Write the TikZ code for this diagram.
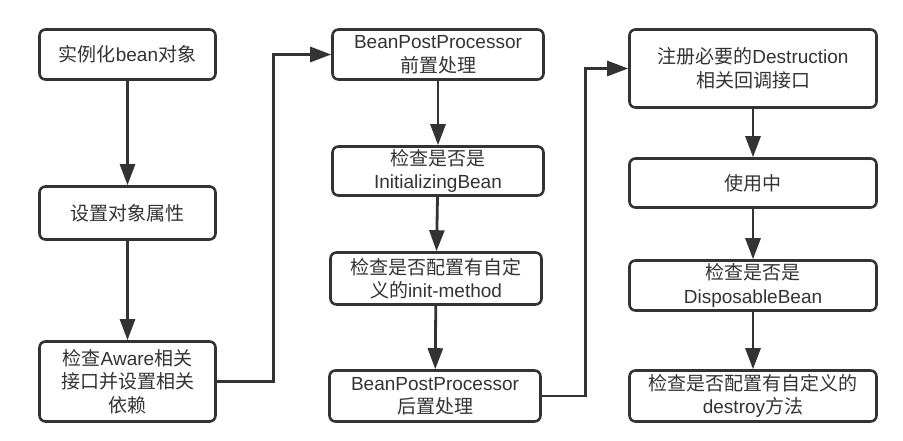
\documentclass[tikz,border=0pt]{standalone}
\usepackage{fontspec}
\setmainfont{Noto Sans CJK SC}
\newfontfamily\latinfont{Liberation Sans}
\newcommand{\en}[1]{{\latinfont #1}}
\usepackage{tikz}
\usetikzlibrary{arrows.meta,positioning}

\definecolor{inkgray}{HTML}{333333}

\begin{document}
\begin{tikzpicture}[x=1pt, y=-1pt,
    box/.style={draw=inkgray, line width=2.6pt, rounded corners=6pt, fill=white,
        text=inkgray, align=center, font=\fontsize{19}{23.5}\selectfont, inner sep=2pt},
    arr/.style={draw=inkgray, line width=2.8pt, -{Triangle[length=21pt, width=15pt]}}]
    \useasboundingbox (0,0) rectangle (903,440);

    % Instantiate
    \node[box, minimum width=176pt, minimum height=50pt] (inst) at (127.5,54.5) {实例化\en{bean}对象};
    \node[box, minimum width=176pt, minimum height=53pt] (props) at (127.5,213) {设置对象属性};
    \node[box, minimum width=176pt, minimum height=80pt] (aware) at (127.5,381.5) {检查\en{Aware}相关\\接口并设置相关\\依赖};
    \draw[arr] (inst) -- (props);
    \draw[arr] (props) -- (aware);

    % Init
    \node[box, minimum width=211pt, minimum height=50pt] (bppBefore) at (438,54.5) {\en{BeanPostProcessor}\\前置处理};
    \node[box, minimum width=211pt, minimum height=49pt] (initBean) at (438,171) {检查是否是\\\en{InitializingBean}};
    \node[box, minimum width=211pt, minimum height=52pt] (initMethod) at (436,278.5) {检查是否配置有自定\\义的\en{init-method}};
    \node[box, minimum width=211pt, minimum height=51pt] (bppAfter) at (435,396) {\en{BeanPostProcessor}\\后置处理};
    \draw[arr] (aware.east) -- ++(57,0) |- (bppBefore.west);
    \draw[arr] (bppBefore) -- (initBean);
    \draw[arr] (initBean) -- (initMethod);
    \draw[arr] (initMethod) -- (bppAfter);

    % Destroy
    \node[box, minimum width=247pt, minimum height=78pt] (regDestr) at (753,68.5) {注册必要的\en{Destruction}\\相关回调接口};
    \node[box, minimum width=247pt, minimum height=49pt] (inUse) at (753,183) {使用中};
    \node[box, minimum width=247pt, minimum height=50pt] (dispBean) at (753,285.5) {检查是否是\\\en{DisposableBean}};
    \node[box, minimum width=247pt, minimum height=51pt] (destrMethod) at (753,396) {检查是否配置有自定义的\\\en{destroy}方法};
    \draw[arr] (bppAfter.east) -- ++(44,0) |- (regDestr.west);
    \draw[arr] (regDestr) -- (inUse);
    \draw[arr] (inUse) -- (dispBean);
    \draw[arr] (dispBean) -- (destrMethod);
\end{tikzpicture}
\end{document}
